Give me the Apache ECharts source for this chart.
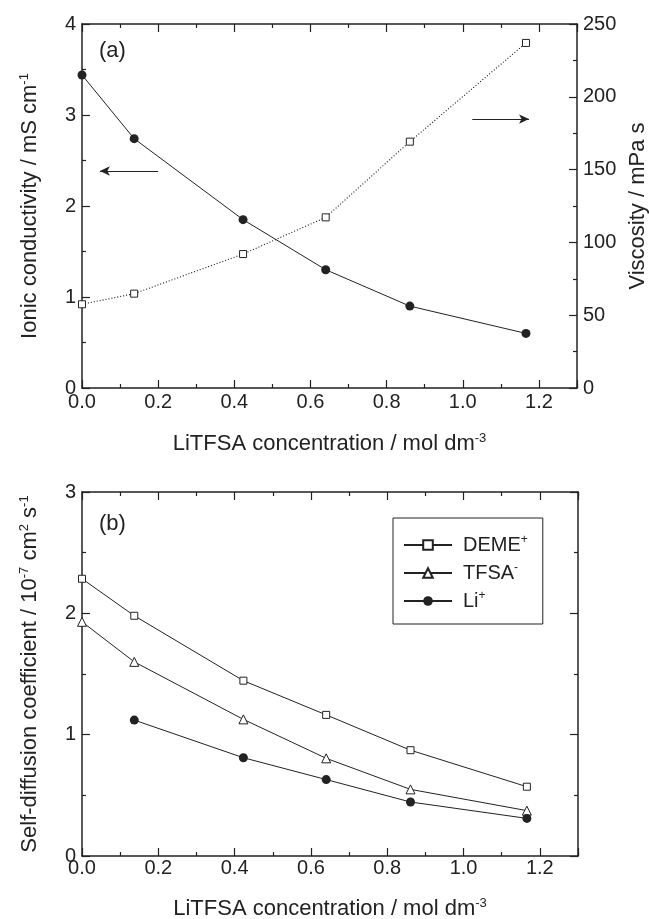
<!DOCTYPE html>
<html>
<head>
<meta charset="utf-8">
<script src="https://cdn.jsdelivr.net/npm/echarts@6/dist/echarts.min.js"></script>
<style>
  html, body { margin: 0; padding: 0; background: #fff; }
  #chart { width: 649px; height: 919px; }
</style>
</head>
<body>
<div id="chart"></div>
<script>
// panel (a)
var concA = [0.0, 0.137, 0.423, 0.64, 0.861, 1.166];
var conductivity = [3.44, 2.74, 1.85, 1.30, 0.90, 0.60];
var viscosity = [57.5, 64.8, 92, 117.2, 169.2, 237];

// panel (b)
var concDeme = [0.0, 0.137, 0.423, 0.64, 0.861, 1.166];
var diffDeme = [2.285, 1.98, 1.445, 1.163, 0.872, 0.571];
var concTfsa = [0.0, 0.137, 0.423, 0.64, 0.861, 1.166];
var diffTfsa = [1.93, 1.60, 1.126, 0.805, 0.549, 0.374];
var concLi = [0.137, 0.423, 0.64, 0.861, 1.166];
var diffLi = [1.12, 0.81, 0.63, 0.445, 0.31];

// arrows pointing to the matching axis
var arrowLeft = [[0.2, 2.385], [0.047, 2.385]];
var arrowRight = [[1.025, 184.7], [1.174, 184.7]];

var FONT = '"Liberation Sans", Arial, sans-serif';
var INK = '#222';
var TITLE_SIZE = 22;
var TICK_SIZE = 20;

function pairs(xs, ys) {
  return xs.map(function (x, i) { return [x, ys[i]]; });
}

var supRich = {
  sup: { fontSize: 13, fontFamily: FONT, color: INK, padding: [0, 0, 11, 0] }
};

function xAxisFor(grid, pos, withLabel, name, gap, margin) {
  return {
    type: 'value', gridIndex: grid, position: pos,
    min: 0, max: 1.3, interval: 0.2,
    name: name || '', nameLocation: 'middle', nameGap: gap || 40,
    nameTextStyle: { fontSize: TITLE_SIZE, fontFamily: FONT, color: INK, rich: supRich },
    axisLine: { show: true, onZero: false, lineStyle: { color: INK, width: 1.5 } },
    axisTick: { show: true, inside: true, length: 8, lineStyle: { color: INK, width: 1.2 } },
    minorTick: { show: true, splitNumber: 2, length: 4, lineStyle: { color: INK, width: 1.2 } },
    axisLabel: {
      show: withLabel, margin: margin == null ? 4 : margin,
      fontSize: TICK_SIZE, fontFamily: FONT, color: INK,
      showMaxLabel: false,
      formatter: function (v) { return v.toFixed(1); }
    },
    splitLine: { show: false }
  };
}

function yAxisFor(grid, pos, min, max, interval, withLabel, name, gap) {
  return {
    type: 'value', gridIndex: grid, position: pos,
    min: min, max: max, interval: interval,
    name: name || '', nameLocation: 'middle', nameGap: gap || 40, nameRotate: 90,
    nameTextStyle: { fontSize: TITLE_SIZE, fontFamily: FONT, color: INK, rich: supRich },
    axisLine: { show: true, onZero: false, lineStyle: { color: INK, width: 1.5 } },
    axisTick: { show: true, inside: true, length: 8, lineStyle: { color: INK, width: 1.2 } },
    minorTick: { show: true, splitNumber: 2, length: 4, lineStyle: { color: INK, width: 1.2 } },
    axisLabel: { show: withLabel, margin: 6, fontSize: TICK_SIZE, fontFamily: FONT, color: INK },
    splitLine: { show: false }
  };
}

function arrowMark(pts) {
  return {
    silent: true,
    symbol: ['none', 'arrow'],
    symbolSize: [7, 10],
    label: { show: false },
    lineStyle: { color: INK, width: 1, type: 'solid' },
    data: [[{ coord: pts[0] }, { coord: pts[1] }]]
  };
}

var chart = echarts.init(document.getElementById('chart'), null, { renderer: 'canvas' });

chart.setOption({
  animation: false,
  backgroundColor: '#fff',
  textStyle: { fontFamily: FONT },
  grid: [
    { left: 82, top: 24, width: 495, height: 364, outerBoundsMode: 'none' },
    { left: 82, top: 492, width: 496, height: 364, outerBoundsMode: 'none' }
  ],
  graphic: [
    { type: 'text', left: 99, top: 40, style: { text: '(a)', fontSize: 22, fontFamily: FONT, fill: INK } },
    { type: 'text', left: 99, top: 513, style: { text: '(b)', fontSize: 22, fontFamily: FONT, fill: INK } }
  ],
  xAxis: [
    xAxisFor(0, 'bottom', true, 'LiTFSA concentration / mol dm{sup|-3}', 44, 4),
    xAxisFor(0, 'top', false),
    xAxisFor(1, 'bottom', true, 'LiTFSA concentration / mol dm{sup|-3}', 41, 2),
    xAxisFor(1, 'top', false)
  ],
  yAxis: [
    yAxisFor(0, 'left', 0, 4, 1, true, 'Ionic conductivity / mS cm{sup|-1}', 40),
    yAxisFor(0, 'right', 0, 250, 50, true, 'Viscosity / mPa s', 49),
    yAxisFor(1, 'left', 0, 3, 1, true, 'Self-diffusion coefficient / 10{sup|-7} cm{sup|2} s{sup|-1}', 40),
    yAxisFor(1, 'right', 0, 3, 1, false)
  ],
  legend: {
    left: 393, top: 518, width: 150,
    orient: 'vertical',
    padding: [16, 15, 13, 10],
    itemGap: 7,
    itemWidth: 48, itemHeight: 12,
    borderColor: INK, borderWidth: 1,
    data: ['DEME+', 'TFSA-', 'Li+'],
    formatter: function (name) {
      var base = name.slice(0, -1), sign = name.slice(-1);
      return '{n|' + base + '}{sup|' + sign + '}';
    },
    textStyle: {
      fontSize: 20, fontFamily: FONT, color: INK, padding: [0, 0, 0, 6],
      rich: {
        n: { fontSize: 20, fontFamily: FONT, color: INK },
        sup: { fontSize: 12, fontFamily: FONT, color: INK, padding: [0, 0, 10, 0] }
      }
    }
  },
  series: [
    {
      name: 'conductivity', type: 'line', xAxisIndex: 0, yAxisIndex: 0,
      data: pairs(concA, conductivity),
      symbol: 'circle', symbolSize: 9,
      itemStyle: { color: INK },
      lineStyle: { color: INK, width: 1 },
      markLine: arrowMark(arrowLeft)
    },
    {
      name: 'viscosity', type: 'line', xAxisIndex: 0, yAxisIndex: 1,
      data: pairs(concA, viscosity),
      symbol: 'rect', symbolSize: 7,
      itemStyle: { color: '#fff', borderColor: INK, borderWidth: 1 },
      lineStyle: { color: '#111', width: 1.1, type: [1, 2] },
      markLine: arrowMark(arrowRight)
    },
    {
      name: 'DEME+', type: 'line', xAxisIndex: 2, yAxisIndex: 2,
      data: pairs(concDeme, diffDeme),
      symbol: 'rect', symbolSize: 7,
      itemStyle: { color: '#fff', borderColor: INK, borderWidth: 1 },
      lineStyle: { color: INK, width: 1 }
    },
    {
      name: 'TFSA-', type: 'line', xAxisIndex: 2, yAxisIndex: 2,
      data: pairs(concTfsa, diffTfsa),
      symbol: 'triangle', symbolSize: 9,
      itemStyle: { color: '#fff', borderColor: INK, borderWidth: 1 },
      lineStyle: { color: INK, width: 1 }
    },
    {
      name: 'Li+', type: 'line', xAxisIndex: 2, yAxisIndex: 2,
      data: pairs(concLi, diffLi),
      symbol: 'circle', symbolSize: 9,
      itemStyle: { color: INK },
      lineStyle: { color: INK, width: 1 }
    }
  ]
});
</script>
</body>
</html>
